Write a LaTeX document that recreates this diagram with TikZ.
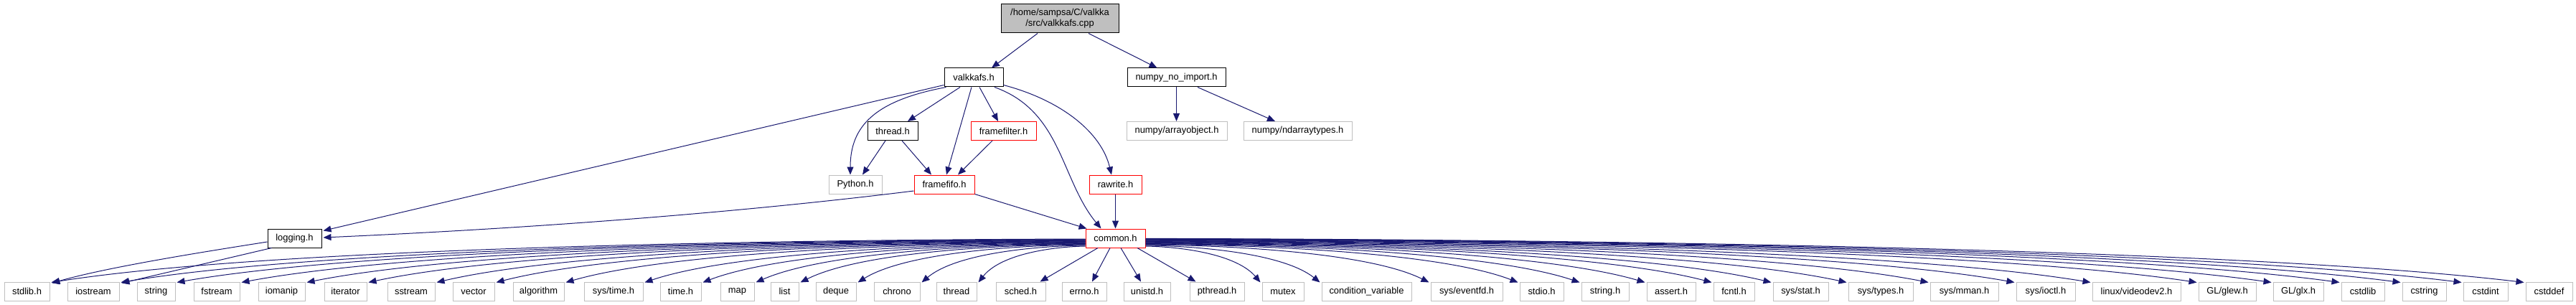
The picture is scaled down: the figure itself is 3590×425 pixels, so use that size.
\documentclass[tikz,border=0pt]{standalone}
\usepackage{fontspec}
\setmainfont{Liberation Sans}
\usetikzlibrary{arrows.meta,calc}
\definecolor{edgecol}{HTML}{191970}
\definecolor{graybox}{HTML}{BFBFBF}
\definecolor{redline}{HTML}{FF0000}
\tikzset{
  box/.style={draw, rectangle, inner sep=0pt, minimum height=26pt, font=\fontsize{12.9}{15}\selectfont, text=black, line width=1pt},
  blkbox/.style={box, draw=black, line width=1pt},
  grybox/.style={box, draw=graybox},
  redbox/.style={box, draw=redline},
  edge/.style={draw=edgecol, line width=1pt, -{Triangle[length=11pt,width=9pt]}},
}
\begin{document}
\begin{tikzpicture}[x=1pt,y=1pt]
\useasboundingbox[fill=white] (0,0) rectangle (3590,-425);
% upper nodes
\node[box, draw=black, fill=graybox, minimum width=164pt, minimum height=40pt, align=center] (root) at (1477,-26) {/home/sampsa/C/valkka\\/src/valkkafs.cpp};
\node[blkbox, minimum width=82pt] (valkkafs) at (1357,-108) {valkkafs.h};
\node[blkbox, minimum width=137pt] (numpyni) at (1639.5,-108) {numpy\_no\_import.h};
\node[grybox, minimum width=140pt] (arrayobj) at (1640,-182.5) {numpy/arrayobject.h};
\node[grybox, minimum width=151pt] (ndarray) at (1808.5,-182.5) {numpy/ndarraytypes.h};
\node[redbox, minimum width=91pt] (framefilter) at (1398.5,-182.5) {framefilter.h};
\node[blkbox, minimum width=70pt] (threadh) at (1244,-182.5) {thread.h};
\node[grybox, minimum width=74pt] (python) at (1192,-257) {Python.h};
\node[redbox, minimum width=84pt] (framefifo) at (1316,-257) {framefifo.h};
\node[redbox, minimum width=73pt] (rawrite) at (1554.5,-257) {rawrite.h};
\node[blkbox, minimum width=75pt] (logging) at (410.5,-332) {logging.h};
\node[redbox, minimum width=83pt] (common) at (1554.5,-332) {common.h};
% bottom row
\foreach \nd/\a/\b/\t in {
 b1/6/69/stdlib.h, b2/94/166/iostream, b3/191/244/string, b4/270/334/fstream,
 b5/360/425/iomanip, b6/452/511/iterator, b7/540/606/sstream, b8/631/689/vector,
 b9/715/786/algorithm, b10/814/896/{sys/time.h}, b11/920/977/time.h, b12/1004/1051/map,
 b13/1074/1113/list, b14/1137/1193/deque, b15/1218/1282/chrono, b16/1305/1361/thread,
 b17/1388/1457/sched.h, b18/1480/1542/errno.h, b19/1566/1631/unistd.h, b20/1658/1734/pthread.h,
 b21/1759/1817/mutex, b22/1842/1967/condition\_variable, b23/1994/2094/{sys/eventfd.h},
 b24/2118/2179/stdio.h, b25/2204/2270/string.h, b26/2295/2363/assert.h, b27/2388/2445/fcntl.h,
 b28/2471/2548/{sys/stat.h}, b29/2576/2666/{sys/types.h}, b30/2690/2785/{sys/mman.h},
 b31/2810/2892/{sys/ioctl.h}, b32/2916/3039/{linux/videodev2.h}, b33/3064/3144/{GL/glew.h},
 b34/3168/3238/{GL/glx.h}, b35/3263/3323/cstdlib, b36/3348/3409/cstring, b37/3433/3495/cstdint,
 b38/3520/3585/cstddef}{
  \pgfmathsetmacro\w{\b-\a}
  \pgfmathsetmacro\cx{(\a+\b)/2}
  \node[grybox, minimum width=\w pt] (\nd) at (\cx,-406) {\t};
}
% upper edges
\draw[edge] ($(root.south)+(-31,0)$) -- ($(valkkafs.north)+(25,0)$);
\draw[edge] ($(root.south)+(40,0)$) -- ($(numpyni.north)+(-27,0)$);
\draw[edge] (numpyni.south) -- (numpyni.south |- arrayobj.north);
\draw[edge] ($(numpyni.south)+(29.5,0)$) -- ($(ndarray.north)+(-31.5,0)$);
\draw[edge] ($(valkkafs.south)+(-19,0)$) -- ($(threadh.north)+(21,0)$);
\draw[edge] ($(valkkafs.south)+(8,0)$) -- ($(framefilter.north)+(-7.5,0)$);
\draw[edge] ($(valkkafs.south west)+(3,0)$) .. controls (1220,-140) and (1185,-175) .. ($(python.north)+(-7,0)$);
\draw[edge] ($(valkkafs.south west)+(0,3)$) -- ($(logging.north east)+(2,-3)$);
\draw[edge] ($(threadh.south)+(-10,0)$) -- ($(python.north)+(10,0)$);
\draw[edge] ($(threadh.south)+(13,0)$) -- ($(framefifo.north)+(-18,0)$);
\draw[edge] ($(valkkafs.south)+(-3,0)$) -- ($(framefifo.north)+(3,0)$);
\draw[edge] ($(framefilter.south)+(-15.5,0)$) -- ($(framefifo.north)+(19,0)$);
\draw[edge] ($(framefifo.west)+(0,-9)$) .. controls (1000,-300) and (700,-320) .. ($(logging.east)+(2,1)$);
\draw[edge] (framefifo.south east) -- ($(common.north west)+(2,0)$);
\draw[edge] (rawrite.south) -- (common.north);
\draw[edge] ($(valkkafs.south)+(29,0)$) .. controls (1480,-155) and (1478,-250) .. ($(common.north)+(-20,0)$);
\draw[edge] ($(valkkafs.south east)+(0,3)$) .. controls (1480,-140) and (1535,-185) .. ($(rawrite.north)+(-5.5,0)$);
\draw[edge] ($(logging.west)+(0,-5)$) .. controls (290,-350) and (150,-372) .. ($(b1.north east)+(3,-2)$);
\draw[edge] ($(logging.south west)+(6,0)$) -- ($(b2.north east)+(3,-2)$);
% common.h fan, left side
\foreach \nd/\sy in {b1/333, b2/333.6, b3/334.2, b4/334.8, b5/335.4, b6/336, b7/336.6, b8/337.2,
  b9/337.8, b10/338.4, b11/339, b12/339.6, b13/340.3, b14/341, b15/342, b16/343}{
  \draw[edge] let \p1=($(common.west)+(0,{332-\sy})$), \p2=($(\nd.north east)+(2,-1)$) in
    (\p1) .. controls ({\x1+0.35*(\x2-\x1)},{\y1+0.02*(\y2-\y1)}) and ({\x1+0.8*(\x2-\x1)},{\y1+0.25*(\y2-\y1)}) .. (\p2);
}
% common.h, straight ones below
\draw[edge] ($(common.south)+(-24.5,0)$) -- ($(b17.north east)+(-8,0)$);
\draw[edge] ($(common.south)+(-7.5,0)$) -- ($(b18.north)+(11,0)$);
\draw[edge] ($(common.south)+(7.5,0)$) -- ($(b19.north)+(-8.5,0)$);
\draw[edge] ($(common.south)+(30.5,0)$) -- ($(b20.north west)+(9,0)$);
% common.h fan, right side
\foreach \nd/\sy in {b21/343, b22/342, b23/341, b24/340.3, b25/339.6, b26/339, b27/338.4, b28/337.8,
  b29/337.2, b30/336.6, b31/336, b32/335.4, b33/334.8, b34/334.2, b35/333.6, b36/333.2, b37/332.8, b38/332.4}{
  \draw[edge] let \p1=($(common.east)+(0,{332-\sy})$), \p2=($(\nd.north west)+(-2,-1)$) in
    (\p1) .. controls ({\x1+0.35*(\x2-\x1)},{\y1+0.02*(\y2-\y1)}) and ({\x1+0.8*(\x2-\x1)},{\y1+0.25*(\y2-\y1)}) .. (\p2);
}
\end{tikzpicture}
\end{document}
